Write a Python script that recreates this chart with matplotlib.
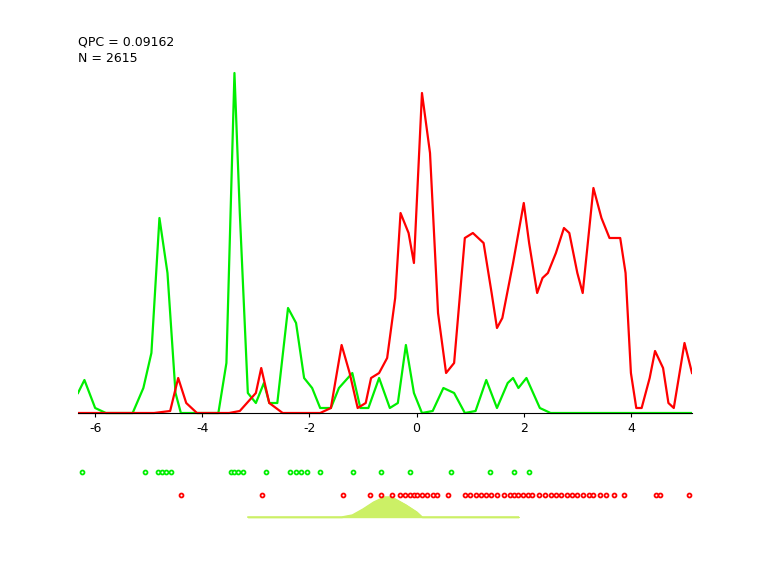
import matplotlib
matplotlib.use("Agg")
import matplotlib.pyplot as plt

green_x = [-6.32,-6.2,-6.0,-5.8,-5.3,-5.1,-4.95,-4.8,-4.65,-4.5,-4.4,-3.7,-3.55,-3.4,-3.3,-3.15,-3.0,-2.85,-2.75,-2.6,-2.4,-2.25,-2.1,-1.95,-1.8,-1.6,-1.45,-1.2,-1.05,-0.9,-0.7,-0.5,-0.35,-0.2,-0.05,0.1,0.3,0.5,0.7,0.9,1.1,1.3,1.5,1.7,1.8,1.9,2.05,2.3,2.5,5.14]
green_y = [20,33,5,0,0,25,60,195,140,20,0,0,50,340,200,20,10,30,10,10,105,90,35,25,5,5,25,40,5,5,35,5,10,68,20,0,2,25,20,0,2,33,5,30,35,25,35,5,0,0]
red_x = [-6.32,-5.2,-4.9,-4.6,-4.45,-4.3,-4.1,-3.5,-3.3,-3.0,-2.9,-2.75,-2.5,-1.8,-1.6,-1.4,-1.25,-1.1,-0.95,-0.85,-0.7,-0.55,-0.4,-0.3,-0.15,-0.05,0.1,0.25,0.4,0.55,0.7,0.9,1.05,1.25,1.4,1.5,1.6,1.8,2.0,2.1,2.25,2.35,2.45,2.6,2.75,2.85,3.0,3.1,3.3,3.45,3.6,3.8,3.9,4.0,4.1,4.2,4.35,4.45,4.6,4.7,4.8,5.0,5.14]
red_y = [0,0,0,2,35,10,0,0,2,20,45,10,0,0,5,68,40,5,10,35,40,55,115,200,180,150,320,260,100,40,50,175,180,170,120,85,95,150,210,170,120,135,140,160,185,180,140,120,225,195,175,175,140,40,5,5,35,62,45,10,5,70,40]
green_pts = [-6.24,-5.07,-4.83,-4.75,-4.67,-4.58,-3.46,-3.4,-3.33,-3.24,-2.81,-2.37,-2.26,-2.15,-2.05,-1.8,-1.19,-0.66,-0.12,0.64,1.37,1.81,2.09]
red_pts = [-4.4,-2.89,-1.38,-0.87,-0.66,-0.46,-0.31,-0.22,-0.13,-0.05,0.0,0.1,0.2,0.3,0.38,0.58,0.9,1.0,1.1,1.2,1.3,1.39,1.5,1.63,1.74,1.82,1.9,1.98,2.07,2.15,2.28,2.4,2.5,2.6,2.7,2.8,2.9,3.0,3.1,3.21,3.3,3.42,3.53,3.68,3.87,4.46,4.54,5.08]
hump_x = [-3.15,-1.4,-1.2,-1.0,-0.8,-0.6,-0.5,-0.4,-0.2,0.0,0.1,0.3,1.9]
hump_y = [0,0,2,8,15,20,20,18,12,5,0,0,0]
ticks = [-6,-4,-2,0,2,4]

fig = plt.figure(figsize=(7.68,5.76), dpi=100)
ax = fig.add_axes([78/768, 0, 614/768, 1])
ax.set_xlim(-6.32, 5.14)
ax.set_ylim(413-576, 413)
ax.plot(green_x, green_y, color='#00ee00', lw=1.6)
ax.plot(red_x, red_y, color='red', lw=1.6)
ax.scatter(green_pts, [-59]*len(green_pts), s=8, facecolor='white', edgecolor='#00ee00', lw=1.3, zorder=3)
ax.scatter(red_pts, [-82]*len(red_pts), s=8, facecolor='white', edgecolor='red', lw=1.3, zorder=3)
hb = -104
ax.fill_between(hump_x, [hb]*len(hump_x), [hb+h for h in hump_y], color='#ccf066', lw=1)
ax.plot(hump_x, [hb+h for h in hump_y], color='#ccf066', lw=1)
for s in ['top','left','right']:
    ax.spines[s].set_visible(False)
ax.spines['bottom'].set_position(('data', 0))
ax.spines['bottom'].set_bounds(-6.32, 5.14)
ax.set_yticks([])
ax.set_xticks(ticks)
ax.set_xticklabels([str(t) for t in ticks], fontsize=9)
ax.tick_params(axis='x', length=3, direction='out')
fig.text(78/768, 1-42/576, "QPC = 0.09162", fontsize=9, va='center')
fig.text(78/768, 1-58/576, "N = 2615", fontsize=9, va='center')
fig.savefig("out.png", dpi=100)
